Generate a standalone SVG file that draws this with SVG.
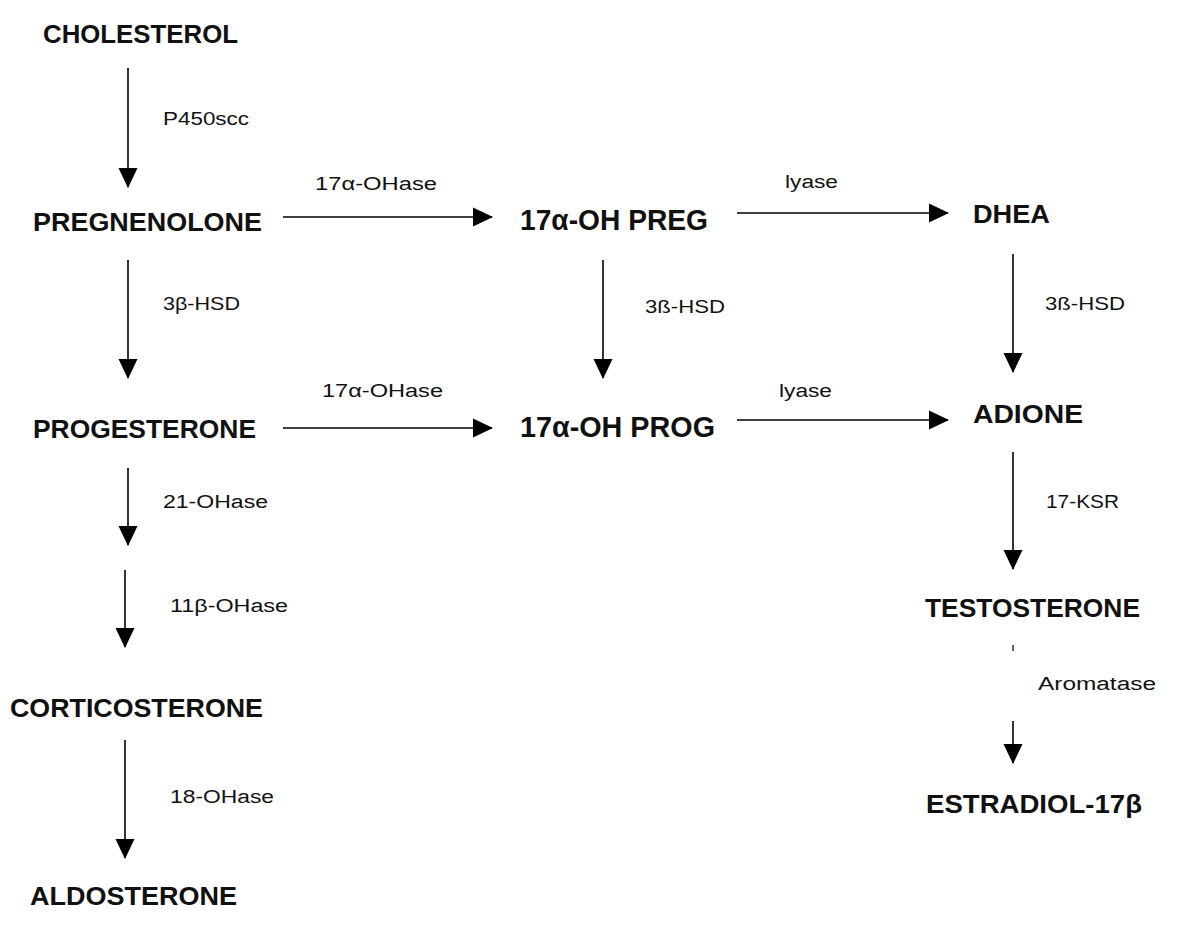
<svg xmlns="http://www.w3.org/2000/svg" width="1181" height="925" viewBox="0 0 1181 925">
<style>
.n{font-family:"Liberation Sans",Arial,sans-serif;font-weight:bold;font-size:26px;fill:#111}
.b{font-size:29px}
.e{font-family:"Liberation Sans",Arial,sans-serif;font-size:18px;fill:#111}
.c{stroke:#000;stroke-width:1.6;fill:none;marker-end:url(#ah)}
</style>
<defs>
<marker id="ah" markerUnits="userSpaceOnUse" markerWidth="20" markerHeight="20" refX="19" refY="9.5" orient="auto" viewBox="0 0 20 19">
<path d="M0,0 L20,9.5 L0,19 z" fill="#000"/>
</marker>
</defs>
<rect width="1181" height="925" fill="#fff"/>
<g id="connectors">
<line class="c" x1="128" y1="68" x2="128" y2="187"/>
<line class="c" x1="128" y1="260" x2="128" y2="378"/>
<line class="c" x1="128" y1="468" x2="128" y2="545"/>
<line class="c" x1="125" y1="570" x2="125" y2="647"/>
<line class="c" x1="125" y1="740" x2="125" y2="858"/>
<line class="c" x1="283" y1="217" x2="492" y2="217"/>
<line class="c" x1="283" y1="428" x2="492" y2="428"/>
<line class="c" x1="603" y1="260" x2="603" y2="378"/>
<line class="c" x1="737" y1="213" x2="948" y2="213"/>
<line class="c" x1="737" y1="420" x2="948" y2="420"/>
<line class="c" x1="1013" y1="254" x2="1013" y2="372"/>
<line class="c" x1="1013" y1="452" x2="1013" y2="569"/>
<line x1="1013" y1="645" x2="1013" y2="651" stroke="#000" stroke-width="1.2"/>
<line class="c" x1="1013" y1="721" x2="1013" y2="763"/>
</g>
<g id="edge-labels">
<text class="e" x="163" y="125" textLength="86" lengthAdjust="spacingAndGlyphs">P450scc</text>
<text class="e" x="163" y="310" textLength="77" lengthAdjust="spacingAndGlyphs">3β-HSD</text>
<text class="e" x="163" y="508" textLength="105" lengthAdjust="spacingAndGlyphs">21-OHase</text>
<text class="e" x="170" y="612" textLength="118" lengthAdjust="spacingAndGlyphs">11β-OHase</text>
<text class="e" x="170" y="803" textLength="104" lengthAdjust="spacingAndGlyphs">18-OHase</text>
<text class="e" x="315" y="190" textLength="122" lengthAdjust="spacingAndGlyphs">17α-OHase</text>
<text class="e" x="322" y="397" textLength="121" lengthAdjust="spacingAndGlyphs">17α-OHase</text>
<text class="e" x="645" y="313" textLength="80" lengthAdjust="spacingAndGlyphs">3ß-HSD</text>
<text class="e" x="785" y="188" textLength="53" lengthAdjust="spacingAndGlyphs">lyase</text>
<text class="e" x="779" y="397" textLength="53" lengthAdjust="spacingAndGlyphs">lyase</text>
<text class="e" x="1045" y="310" textLength="80" lengthAdjust="spacingAndGlyphs">3ß-HSD</text>
<text class="e" x="1046" y="508" textLength="73" lengthAdjust="spacingAndGlyphs">17-KSR</text>
<text class="e" x="1038" y="690" textLength="118" lengthAdjust="spacingAndGlyphs">Aromatase</text>
</g>
<g id="cholesterol"><text class="n" x="43" y="43" textLength="195" lengthAdjust="spacingAndGlyphs">CHOLESTEROL</text></g>
<g id="pregnenolone"><text class="n" x="33" y="231" textLength="229" lengthAdjust="spacingAndGlyphs">PREGNENOLONE</text></g>
<g id="progesterone"><text class="n" x="33" y="438" textLength="223" lengthAdjust="spacingAndGlyphs">PROGESTERONE</text></g>
<g id="corticosterone"><text class="n" x="10" y="717" textLength="253" lengthAdjust="spacingAndGlyphs">CORTICOSTERONE</text></g>
<g id="aldosterone"><text class="n" x="30" y="905" textLength="207" lengthAdjust="spacingAndGlyphs">ALDOSTERONE</text></g>
<g id="oh-preg"><text class="n b" x="520" y="230" textLength="188" lengthAdjust="spacingAndGlyphs">17α-OH PREG</text></g>
<g id="oh-prog"><text class="n b" x="520" y="437" textLength="195" lengthAdjust="spacingAndGlyphs">17α-OH PROG</text></g>
<g id="dhea"><text class="n" x="973" y="223" textLength="77" lengthAdjust="spacingAndGlyphs">DHEA</text></g>
<g id="adione"><text class="n" x="973" y="423" textLength="110" lengthAdjust="spacingAndGlyphs">ADIONE</text></g>
<g id="testosterone"><text class="n" x="925" y="617" textLength="215" lengthAdjust="spacingAndGlyphs">TESTOSTERONE</text></g>
<g id="estradiol"><text class="n" x="926" y="813" textLength="216" lengthAdjust="spacingAndGlyphs">ESTRADIOL-17β</text></g>
</svg>
